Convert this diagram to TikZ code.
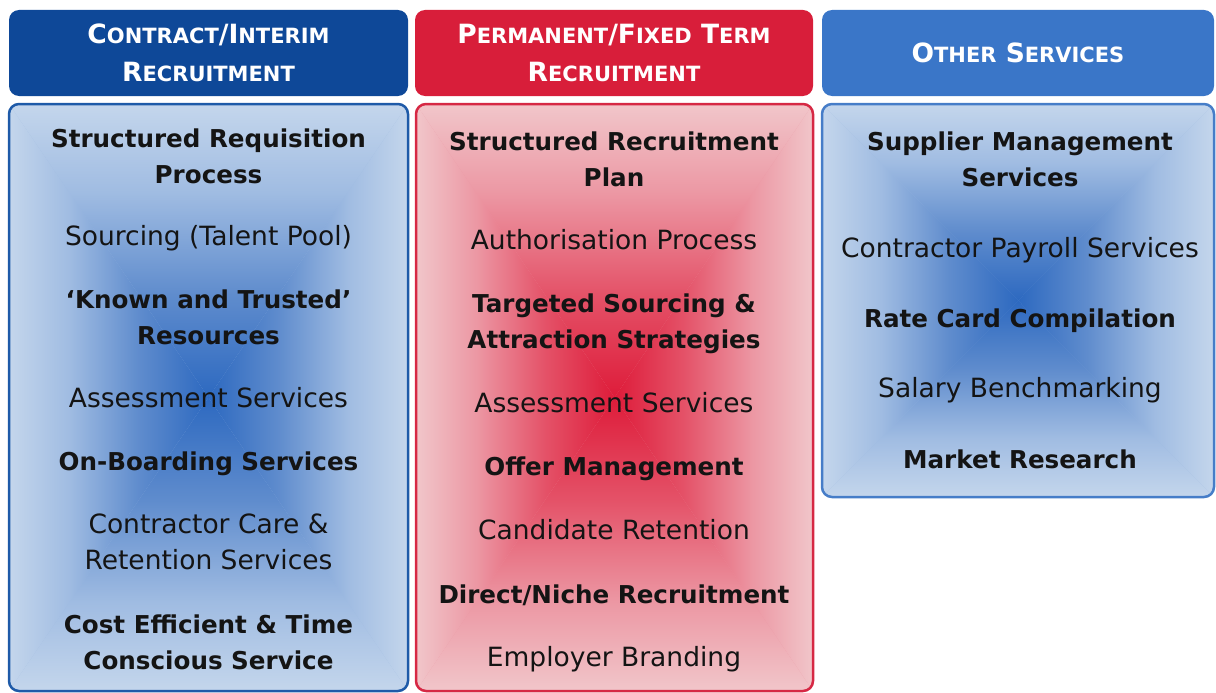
\documentclass[tikz,border=0pt]{standalone}
\usepackage{fontspec}
\setmainfont{DejaVu Sans}
\definecolor{hblue}{RGB}{14,72,152}
\definecolor{hred}{RGB}{216,30,58}
\definecolor{hsky}{RGB}{58,118,200}
\definecolor{bbord}{RGB}{30,90,168}
\definecolor{rbord}{RGB}{214,40,68}
\definecolor{sbord}{RGB}{70,125,200}
\definecolor{txt}{RGB}{20,20,20}
\definecolor{bL}{RGB}{196,214,236}
\definecolor{bMa}{RGB}{160,188,226}
\definecolor{bMb}{RGB}{95,140,205}
\definecolor{bD}{RGB}{45,105,192}
\definecolor{rL}{RGB}{241,198,202}
\definecolor{rMa}{RGB}{236,152,164}
\definecolor{rMb}{RGB}{228,82,104}
\definecolor{rD}{RGB}{222,28,58}
\pgfdeclareverticalshading{bLDv}{100bp}{color(0bp)=(bL); color(25bp)=(bL); color(40bp)=(bMa); color(57.5bp)=(bMb); color(75bp)=(bD); color(100bp)=(bD)}
\pgfdeclareverticalshading{bDLv}{100bp}{color(0bp)=(bD); color(25bp)=(bD); color(42.5bp)=(bMb); color(60bp)=(bMa); color(75bp)=(bL); color(100bp)=(bL)}
\pgfdeclarehorizontalshading{bLDh}{100bp}{color(0bp)=(bL); color(25bp)=(bL); color(40bp)=(bMa); color(57.5bp)=(bMb); color(75bp)=(bD); color(100bp)=(bD)}
\pgfdeclarehorizontalshading{bDLh}{100bp}{color(0bp)=(bD); color(25bp)=(bD); color(42.5bp)=(bMb); color(60bp)=(bMa); color(75bp)=(bL); color(100bp)=(bL)}
\pgfdeclareverticalshading{rLDv}{100bp}{color(0bp)=(rL); color(25bp)=(rL); color(40bp)=(rMa); color(57.5bp)=(rMb); color(75bp)=(rD); color(100bp)=(rD)}
\pgfdeclareverticalshading{rDLv}{100bp}{color(0bp)=(rD); color(25bp)=(rD); color(42.5bp)=(rMb); color(60bp)=(rMa); color(75bp)=(rL); color(100bp)=(rL)}
\pgfdeclarehorizontalshading{rLDh}{100bp}{color(0bp)=(rL); color(25bp)=(rL); color(40bp)=(rMa); color(57.5bp)=(rMb); color(75bp)=(rD); color(100bp)=(rD)}
\pgfdeclarehorizontalshading{rDLh}{100bp}{color(0bp)=(rD); color(25bp)=(rD); color(42.5bp)=(rMb); color(60bp)=(rMa); color(75bp)=(rL); color(100bp)=(rL)}
% #1,#2 top-left ; #3,#4 bottom-right ; #5 colour prefix ; #6 border colour
\newcommand\gradbox[6]{%
  \begin{scope}
    \clip[rounded corners=10pt] (#1,#2) rectangle (#3,#4);
    \fill[#5Ma] (#1,#2) rectangle (#3,#4);
    \coordinate (gc) at ({(#1+#3)/2},{(#2+#4)/2});
    \shade[shading=#5DLv] (#1,#2) -- (#3,#2) -- (gc) -- cycle;
    \shade[shading=#5LDv] (#1,#4) -- (#3,#4) -- (gc) -- cycle;
    \shade[shading=#5LDh] (#1,#2) -- (#1,#4) -- (gc) -- cycle;
    \shade[shading=#5DLh] (#3,#2) -- (#3,#4) -- (gc) -- cycle;
  \end{scope}
  \draw[#6, line width=2.5pt, rounded corners=10pt] (#1,#2) rectangle (#3,#4);
}
\newcommand\HC[1]{{\fontsize{26.5}{38}\selectfont #1}}
\newcommand\SC[1]{{\fontsize{21}{38}\selectfont #1}}
\tikzset{
  rt/.style={anchor=base, text=txt, font=\fontsize{26.5}{30}\selectfont, inner sep=0pt},
  bt/.style={anchor=base, text=txt, font=\bfseries\fontsize{24.6}{30}\selectfont, inner sep=0pt},
  hdr/.style={rounded corners=10pt, minimum height=86pt, text=white, align=center,
    font=\bfseries\fontsize{26.5}{38}\selectfont, inner sep=0pt}
}
\begin{document}
\begin{tikzpicture}[x=1pt, y=-1pt]
\useasboundingbox (0,0) rectangle (1216,693);
% headers
\node[hdr, fill=hblue, minimum width=399pt] (h1) at (208.5,53) {\HC{C}\SC{ONTRACT}/\HC{I}\SC{NTERIM}\\\HC{R}\SC{ECRUITMENT}};
\node[hdr, fill=hred, minimum width=398pt] (h2) at (614,53) {\HC{P}\SC{ERMANENT}/\HC{F}\SC{IXED} \HC{T}\SC{ERM}\\\HC{R}\SC{ECRUITMENT}};
\node[hdr, fill=hsky, minimum width=392pt] (h3) at (1018,53) {\HC{O}\SC{THER} \HC{S}\SC{ERVICES}};
% bodies
\gradbox{9}{104}{408}{691}{b}{bbord}
\gradbox{416}{104}{813}{691}{r}{rbord}
\gradbox{822}{104}{1214}{497}{b}{sbord}
% column 1
\node[bt] (c1a) at (208.5,147) {Structured Requisition};
\node[bt] (c1b) at (208.5,183) {Process};
\node[rt] (c1c) at (208.5,245) {Sourcing (Talent Pool)};
\node[bt] (c1d) at (208.5,308) {`Known and Trusted'};
\node[bt] (c1e) at (208.5,344) {Resources};
\node[rt] (c1f) at (208.5,407) {Assessment Services};
\node[bt] (c1g) at (208.5,470) {On-Boarding Services};
\node[rt] (c1h) at (208.5,533) {Contractor Care \&};
\node[rt] (c1i) at (208.5,569) {Retention Services};
\node[bt] (c1j) at (208.5,633) {Cost Efficient \& Time};
\node[bt] (c1k) at (208.5,669) {Conscious Service};
% column 2
\node[bt] (c2a) at (614,150) {Structured Recruitment};
\node[bt] (c2b) at (614,186) {Plan};
\node[rt] (c2c) at (614,249) {Authorisation Process};
\node[bt] (c2d) at (614,312) {Targeted Sourcing \&};
\node[bt] (c2e) at (614,348) {Attraction Strategies};
\node[rt] (c2f) at (614,412) {Assessment Services};
\node[bt] (c2g) at (614,475) {Offer Management};
\node[rt] (c2h) at (614,539) {Candidate Retention};
\node[bt] (c2i) at (614,603) {Direct/Niche Recruitment};
\node[rt] (c2j) at (614,666) {Employer Branding};
% column 3
\node[bt] (c3a) at (1020,150) {Supplier Management};
\node[bt] (c3b) at (1020,186) {Services};
\node[rt] (c3c) at (1020,257) {Contractor Payroll Services};
\node[bt] (c3d) at (1020,327) {Rate Card Compilation};
\node[rt] (c3e) at (1020,397) {Salary Benchmarking};
\node[bt] (c3f) at (1020,468) {Market Research};
\end{tikzpicture}
\end{document}
